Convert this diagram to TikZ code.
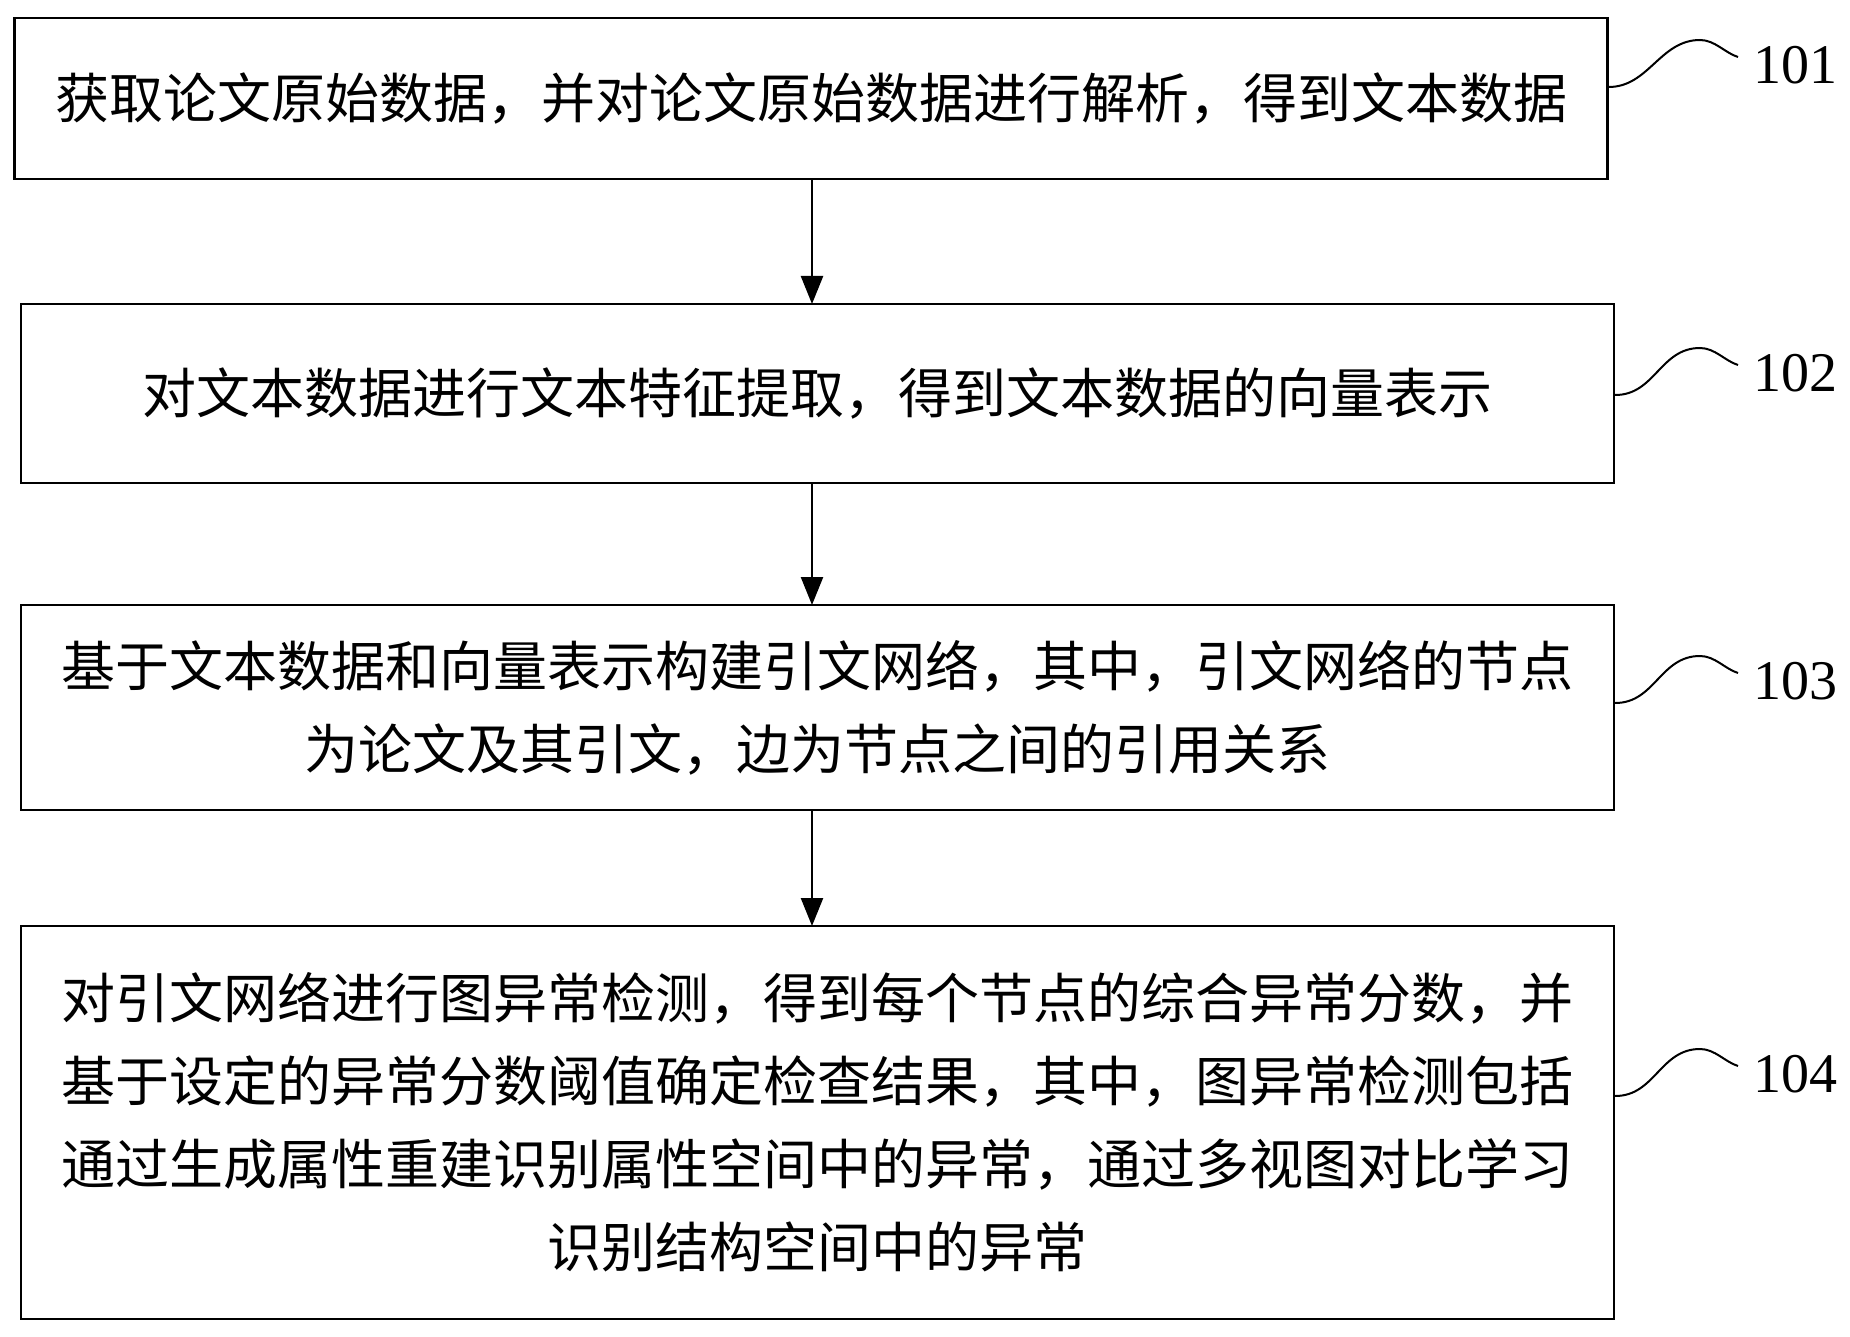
\documentclass[tikz,border=0pt]{standalone}
\usepackage{fontspec}
\setmainfont{Liberation Serif}
\newfontfamily\cjk{Noto Sans CJK SC}
\usetikzlibrary{arrows.meta}
\begin{document}
\begin{tikzpicture}[x=1pt,y=-1pt,
  stepbox/.style={draw,line width=2.4pt,minimum width=1593pt,inner sep=0pt,align=center,text width=1540pt,font=\cjk\fontsize{54}{83}\selectfont},
  arr/.style={line width=2.4pt,-{Triangle[length=28pt,width=22pt]}},
  lbl/.style={font=\fontsize{56}{60}\selectfont},
  sq/.style={line width=2pt}]
\useasboundingbox (0,0) rectangle (1850,1337);
\node[stepbox,minimum height=161pt] (b1) at (811,98.5) {获取论文原始数据，并对论文原始数据进行解析，得到文本数据};
\node[stepbox,minimum height=179pt] (b2) at (817.5,393.5) {对文本数据进行文本特征提取，得到文本数据的向量表示};
\node[stepbox,minimum height=205pt] (b3) at (817.5,707.5) {基于文本数据和向量表示构建引文网络，其中，引文网络的节点\\为论文及其引文，边为节点之间的引用关系};
\node[stepbox,minimum height=393pt] (b4) at (817.5,1122.5) {对引文网络进行图异常检测，得到每个节点的综合异常分数，并\\基于设定的异常分数阈值确定检查结果，其中，图异常检测包括\\通过生成属性重建识别属性空间中的异常，通过多视图对比学习\\识别结构空间中的异常};
\draw[arr] (812,179) -- (812,304);
\draw[arr] (812,483) -- (812,605);
\draw[arr] (812,810) -- (812,926);
\foreach \b/\y/\t in {b1/65/101,b2/373/102,b3/681/103,b4/1074/104}{
  \node[lbl] (l\t) at (1795,\y) {\t};
  \draw[sq] (\b.east |- 0,\y+22) .. controls +(40,0) and (1660,\y-25) .. (1700,\y-25) .. controls (1715,\y-25) and (1725,\y-12) .. (1738,\y-8);
}
\end{tikzpicture}
\end{document}
